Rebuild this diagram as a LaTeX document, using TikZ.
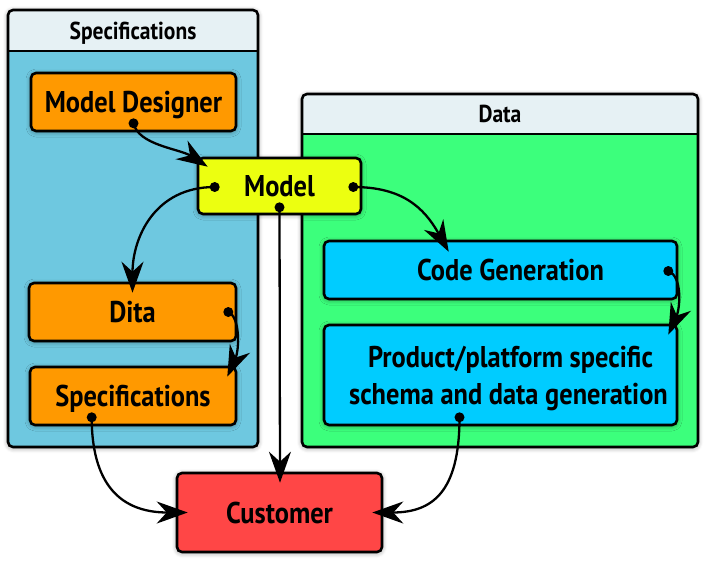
\documentclass[tikz,border=0pt]{standalone}
\usepackage{fontspec}
\setmainfont{PT Sans}[FakeStretch=0.88]
\usetikzlibrary{arrows.meta,calc,shadows.blur}
\definecolor{headfill}{HTML}{E6F1F4}
\definecolor{specblue}{HTML}{6EC8E0}
\definecolor{datagreen}{HTML}{3CFF7C}
\definecolor{orangebox}{HTML}{FF9900}
\definecolor{yellowbox}{HTML}{ECFF10}
\definecolor{cyanbox}{HTML}{00CCFF}
\definecolor{redbox}{HTML}{FF4646}
\tikzset{
  softshadow/.style={blur shadow={shadow blur steps=6, shadow xshift=0pt, shadow yshift=-1pt, shadow blur radius=5pt, shadow opacity=40}},
  procbox/.style={draw, line width=2.6pt, rounded corners=5pt, inner sep=0pt, align=center, text depth=0pt,
    font=\fontsize{30}{37}\selectfont\bfseries, softshadow},
  headtext/.style={font=\fontsize{24.5}{27}\selectfont\bfseries, text depth=0pt},
  conn/.style={line width=2.3pt, draw=black, -{Stealth[length=31pt,width=22pt,inset=10pt]}},
  dotmark/.style={fill=black},
}
\begin{document}
\begin{tikzpicture}[x=1pt,y=1pt]
\useasboundingbox (0,0) rectangle (708,-563);
% Specifications container
\fill[specblue, rounded corners=5pt, softshadow] (8,-10) rectangle (258,-447);
\fill[headfill, rounded corners=5pt] (8,-10) rectangle (258,-51);
\fill[headfill] (8,-35) rectangle (258,-51);
\draw[line width=2.6pt] (8,-51) -- (258,-51);
\draw[line width=2.6pt, rounded corners=5pt] (8,-10) rectangle (258,-447);
\node[headtext] (spechead) at (133,-30.5) {Specifications};
% Data container
\fill[datagreen, rounded corners=5pt, softshadow] (302,-94) rectangle (698,-447);
\fill[headfill, rounded corners=5pt] (302,-94) rectangle (698,-134);
\fill[headfill] (302,-115) rectangle (698,-134);
\draw[line width=2.6pt] (302,-134) -- (698,-134);
\draw[line width=2.6pt, rounded corners=5pt] (302,-94) rectangle (698,-447);
\node[headtext] (datahead) at (500,-114) {Data};
% boxes
\node[procbox, fill=orangebox, minimum width=205pt, minimum height=58pt] (md) at (133.5,-102) {Model Designer};
\node[procbox, fill=yellowbox, minimum width=163pt, minimum height=56pt] (model) at (279.5,-186) {Model};
\node[procbox, fill=orangebox, minimum width=207pt, minimum height=58pt] (dita) at (132.5,-312) {Dita};
\node[procbox, fill=orangebox, minimum width=206pt, minimum height=58pt] (specs) at (133,-396) {Specifications};
\node[procbox, fill=cyanbox, minimum width=353pt, minimum height=58pt] (code) at (500.5,-270) {\hspace*{20pt}Code Generation};
\node[procbox, fill=cyanbox, minimum width=353pt, minimum height=100pt] (prod) at (500.5,-375) {\hspace*{20pt}Product/platform specific\\\hspace*{16pt}schema and data generation};
\node[procbox, fill=redbox, minimum width=205pt, minimum height=79pt] (cust) at (279.5,-512.5) {Customer};
% connector start points
\coordinate (s1) at ($(md.south)+(0,9)$);
\coordinate (s2) at ($(model.west)+(18,-1)$);
\coordinate (s3) at ($(model.east)+(-9,-1)$);
\coordinate (s4) at ($(model.south)+(0,8)$);
\coordinate (s5) at ($(dita.east)+(-9,0)$);
\coordinate (s6) at ($(code.east)+(-10,-1)$);
\coordinate (s7) at ($(specs.south west)+(63,9)$);
\coordinate (s8) at ($(prod.south)+(-41,9)$);
% connectors
\draw[conn] (s1) .. controls +(5,-22) and +(-28,18) .. ($(model.north west)+(11,-10)$);
\draw[conn] (s2) .. controls +(-60,0) and +(0,55) .. ($(dita.north)+(0,-11)$);
\draw[conn] (s3) .. controls +(48,0) and +(-25,45) .. ($(code.north west)+(126,-12)$);
\draw[conn] (s4) -- ($(cust.north)+(0.5,-11)$);
\draw[conn] (s5) .. controls +(12,-5) and +(12,27) .. ($(specs.north east)+(-10,-11)$);
\draw[conn] (s6) .. controls +(14,-5) and +(12,27) .. ($(prod.north east)+(-10,-11)$);
\draw[conn] (s7) .. controls +(0,-75) and +(-60,0) .. ($(cust.west)+(12,0)$);
\draw[conn] (s8) .. controls +(0,-75) and +(60,0) .. ($(cust.east)+(-11,0)$);
% dots
\foreach \p in {s1,s2,s3,s4,s5,s6,s7,s8} \fill[dotmark] (\p) circle (5pt);
\end{tikzpicture}
\end{document}
